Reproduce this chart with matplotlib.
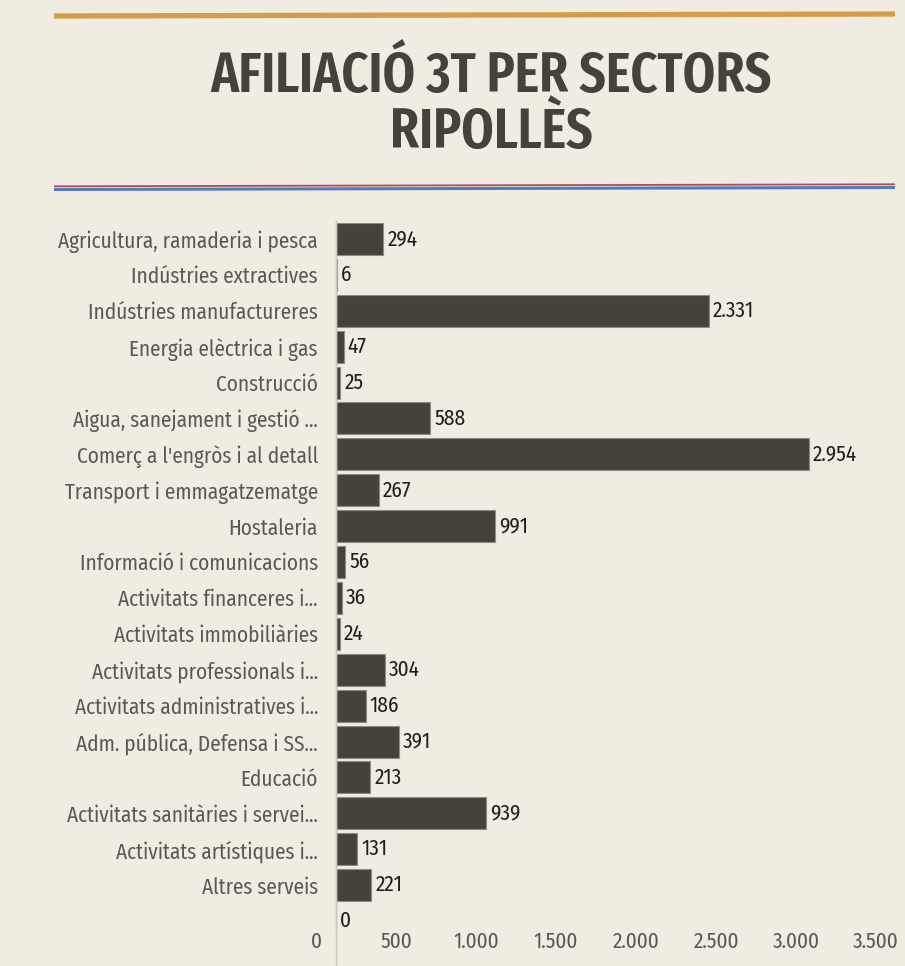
import matplotlib
matplotlib.use("Agg")
import matplotlib.pyplot as plt
from matplotlib.lines import Line2D
from matplotlib.transforms import ScaledTranslation

categories = [
    "Agricultura, ramaderia i pesca",
    "Indústries extractives",
    "Indústries manufactureres",
    "Energia elèctrica i gas",
    "Construcció",
    "Aigua, sanejament i gestió ...",
    "Comerç a l'engròs i al detall",
    "Transport i emmagatzematge",
    "Hostaleria",
    "Informació i comunicacions",
    "Activitats financeres i...",
    "Activitats immobiliàries",
    "Activitats professionals i...",
    "Activitats administratives i...",
    "Adm. pública, Defensa i SS...",
    "Educació",
    "Activitats sanitàries i servei...",
    "Activitats artístiques i...",
    "Altres serveis",
    "",
]
values = [294, 6, 2331, 47, 25, 588, 2954, 267, 991, 56, 36, 24, 304, 186, 391, 213, 939, 131, 221, 0]
xticks = [0, 500, 1000, 1500, 2000, 2500, 3000, 3500]
title_lines = ["AFILIACIÓ 3T PER SECTORS", "RIPOLLÈS"]

BG = "#f0ece1"
BAR = "#46423a"
W, H = 905, 966
LABEL_FONT = ["Fira Sans Condensed", "PT Sans Narrow", "Archivo Narrow", "Liberation Sans"]
TITLE_FONT = ["Fira Sans Extra Condensed", "Fira Sans Condensed", "PT Sans Narrow", "Liberation Sans"]
FS = 15.3
LABEL_COLOR = "#5b5851"

def fmt(v):
    return f"{int(v):,}".replace(",", ".")

fig = plt.figure(figsize=(W / 100, H / 100), dpi=100, facecolor=BG)

def fx(px):
    return px / W

def fy(py):
    return 1 - py / H

# decorative lines
fig.add_artist(Line2D([fx(54), fx(895)], [fy(16), fy(14)], color="#d39e45", lw=3.8, solid_capstyle="butt"))
fig.add_artist(Line2D([fx(54), fx(895)], [fy(189.5), fy(187.5)], color="#4f7cc0", lw=2.2, solid_capstyle="butt"))
fig.add_artist(Line2D([fx(54), fx(895)], [fy(186.3), fy(184.3)], color="#b04a5a", lw=1.3, solid_capstyle="butt"))

# title (two lines, baselines)
for txt, base in zip(title_lines, [92, 148]):
    fig.text(fx(491), fy(base), txt, ha="center", va="baseline", fontsize=40.8, fontweight="semibold",
             color="#46423a", family=TITLE_FONT)

ax = fig.add_axes([fx(336), fy(930), fx(569), fy(221) - fy(930)])
ax.set_facecolor(BG)
y = list(range(len(categories)))
ax.barh(y, values, height=0.89, color=BAR, edgecolor="#8f8b82", linewidth=0.8)
ax.set_ylim(19.25, -0.5)
ax.set_xlim(0, 3556)
ax.set_yticks(y)
ax.set_yticklabels(categories, family=LABEL_FONT, fontsize=FS, color=LABEL_COLOR)
ax.set_xticks(xticks, labels=[fmt(v) for v in xticks], family=LABEL_FONT, fontsize=FS,
              color=LABEL_COLOR)
ax.tick_params(axis="y", length=0, pad=13)
ax.tick_params(axis="x", length=0, pad=1)
shift = ScaledTranslation(-20 / 100, 0, fig.dpi_scale_trans)
for t in ax.xaxis.get_major_ticks():
    t.label1.set_transform(t.label1.get_transform() + shift)
for s in ["top", "right", "bottom"]:
    ax.spines[s].set_visible(False)
ax.spines["left"].set_color("#cdc9bd")
ax.spines["left"].set_linewidth(1.0)
ax.axvline(0, ymin=-0.06, ymax=1, color="#cdc9bd", lw=1.0, clip_on=False)

for yi, v in zip(y, values):
    ax.annotate(fmt(v), (v, yi), xytext=(3, 0), textcoords="offset points",
                ha="left", va="center", fontsize=FS, color="#1e1e1e", family=LABEL_FONT)

fig.savefig("out.png", dpi=100, facecolor=BG)
